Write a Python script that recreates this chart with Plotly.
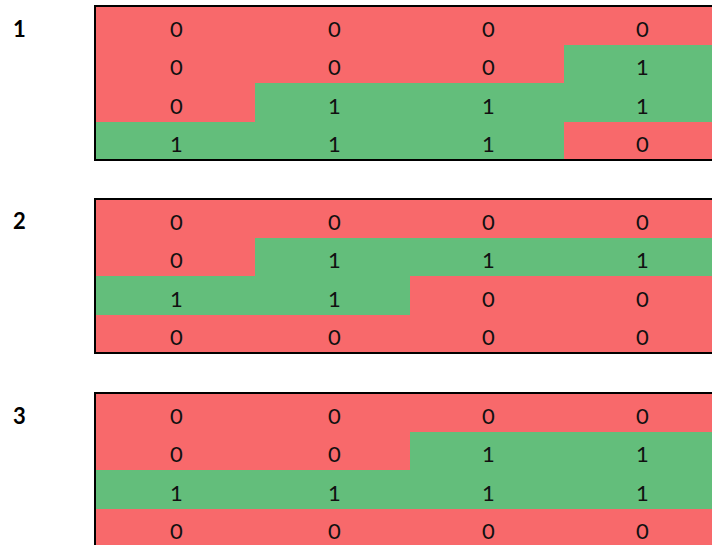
import plotly.graph_objects as go

W, H = 712, 545

block_labels = ["1", "2", "3"]
rows = [0, 1, 2, 3]

block1 = [[0, 0, 0, 0],
          [0, 0, 0, 1],
          [0, 1, 1, 1],
          [1, 1, 1, 0]]
block2 = [[0, 0, 0, 0],
          [0, 1, 1, 1],
          [1, 1, 0, 0],
          [0, 0, 0, 0]]
block3 = [[0, 0, 0, 0],
          [0, 0, 1, 1],
          [1, 1, 1, 1],
          [0, 0, 0, 0]]
blocks = [block1, block2, block3]

RED = "#F8696B"
GREEN = "#63BE7B"

# layout (pixel sizes)
grid_left = 95
col_widths = [160, 155, 154, 154]
row_h = 38.5
block_tops = [6, 199, 393]
pad = 3

col_edges = [grid_left]
for w in col_widths:
    col_edges.append(col_edges[-1] + w)
col_centers = [(a + b) / 2 for a, b in zip(col_edges[:-1], col_edges[1:])]
row_edges = [r - 0.5 for r in rows] + [rows[-1] + 0.5]

fig = go.Figure()
x_range = [grid_left - pad, W]

for i, (z, top) in enumerate(zip(blocks, block_tops)):
    n = i + 1
    xa = "x" if n == 1 else f"x{n}"
    ya = "y" if n == 1 else f"y{n}"
    top_px = top - pad
    bottom_px = top + len(rows) * row_h + pad
    y_lo = max(0.0, (H - bottom_px) / H)
    y_hi = (H - top_px) / H
    span_rows = (y_hi - y_lo) * H / row_h
    y_top_val = -0.5 - pad / row_h
    fig.add_trace(go.Heatmap(
        z=z, x=col_edges, y=row_edges,
        colorscale=[[0, RED], [0.5, RED], [0.5, GREEN], [1, GREEN]],
        zmin=0, zmax=1, showscale=False,
        hoverinfo="skip",
        xaxis=xa, yaxis=ya,
    ))
    for r in rows:
        for c, cx in enumerate(col_centers):
            fig.add_annotation(text=str(z[r][c]), xref=xa, yref=ya, x=cx + 1.5, y=r,
                               showarrow=False, yshift=-3,
                               font=dict(family="Lato", size=22, color="#111111"),
                               xanchor="center", yanchor="middle")
    fig.layout[("xaxis" if n == 1 else f"xaxis{n}")] = dict(
        domain=[(grid_left - pad) / W, 1], range=x_range, visible=False,
        anchor=ya, fixedrange=True)
    fig.layout[("yaxis" if n == 1 else f"yaxis{n}")] = dict(
        domain=[y_lo, y_hi], range=[y_top_val + span_rows, y_top_val], visible=False,
        anchor=xa, fixedrange=True)
    fig.add_shape(type="rect", xref=xa, yref=ya,
                  x0=col_edges[0], x1=col_edges[-1], y0=row_edges[0], y1=row_edges[-1],
                  line=dict(color="#000000", width=2), layer="above")
    fig.add_annotation(text=f"<b>{block_labels[i]}</b>", xref="paper", yref="paper",
                       x=19.5 / W, y=(H - (top + 22)) / H, showarrow=False,
                       font=dict(family="Lato", size=22, color="#000000"),
                       xanchor="center", yanchor="middle")

fig.update_layout(width=W, height=H, margin=dict(l=0, r=0, t=0, b=0),
                  paper_bgcolor="white", plot_bgcolor="rgba(0,0,0,0)", showlegend=False)

fig.write_html("out.html", config={"displayModeBar": False},
               post_script="document.body.style.margin='0px';document.body.style.overflow='hidden';")
